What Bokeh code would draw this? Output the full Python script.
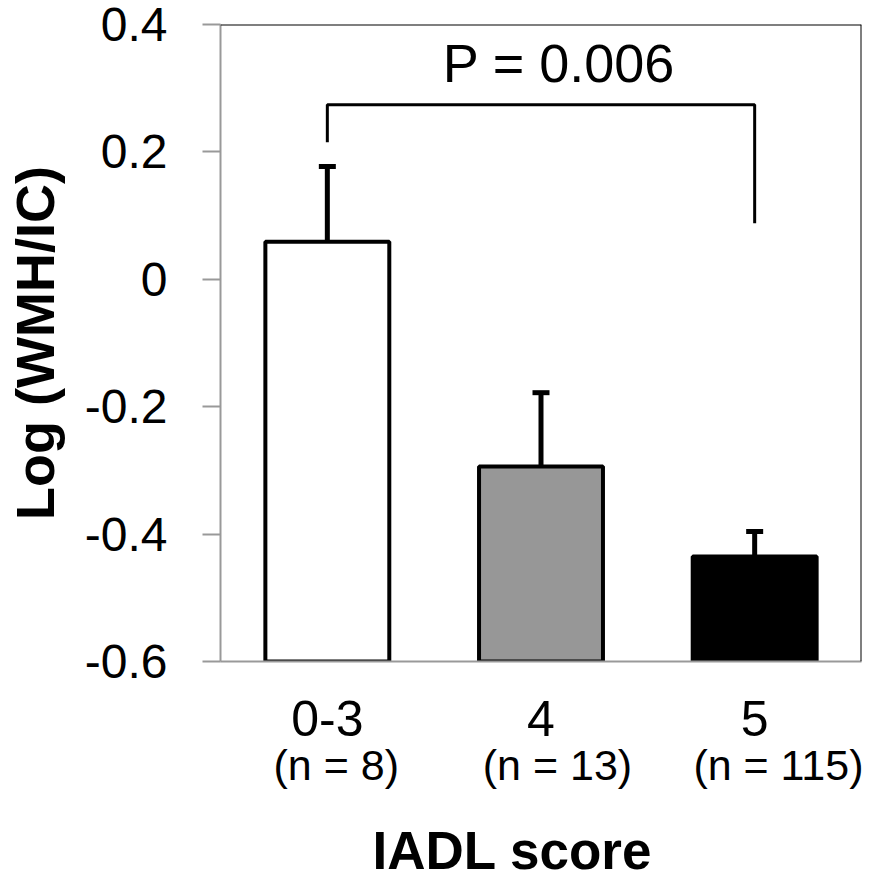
from bokeh.plotting import figure
from bokeh.models import (Range1d, FixedTicker, CustomJSTickFormatter,
                          ColumnDataSource, Span, LinearAxis)
from bokeh.core.properties import value
from bokeh.embed import file_html
from bokeh.resources import INLINE

categories = ["0-3", "4", "5"]
n_labels = ["(n = 8)", "(n = 13)", "(n = 115)"]
means = [0.059, -0.294, -0.435]
err_tops = [0.177, -0.178, -0.396]
bar_colors = ["#ffffff", "#979797", "#000000"]
y_ticks = [-0.6, -0.4, -0.2, 0.0, 0.2, 0.4]
bracket_cats = ["0-3", "0-3", "5", "5"]
bracket_y = [0.215, 0.274, 0.274, 0.088]
p_text = "P = 0.006"
p_text_y = 0.34
y_title = "Log (WMH/IC)"
x_title = "IADL score"

FONT = "Liberation Sans"
GRAY = "#999999"
Y0, Y1 = -0.6, 0.4

# category positions on a numeric axis (slot centres)
pos = {c: i + 0.5 for i, c in enumerate(categories)}
xs = [pos[c] for c in categories]

p = figure(x_range=Range1d(0, len(categories)), y_range=Range1d(Y0, Y1),
           frame_width=641, frame_height=637,
           min_border_left=220, min_border_top=24, min_border_right=2,
           min_border_bottom=214,
           output_backend="svg", toolbar_location=None)
# extra ranges used only to place the text rows under the categories
p.extra_x_ranges = {
    "n": Range1d(-0.0235, 2.8745),
    "title": Range1d(0.0445, 1.0445),
}
p.grid.visible = False
p.outline_line_color = None
p.background_fill_color = "white"

src = ColumnDataSource(dict(x=xs, top=means, err=err_tops, color=bar_colors))
p.vbar(x="x", top="top", bottom=Y0, width=0.58, source=src,
       fill_color="color", line_color="black", line_width=4)
p.segment(x0="x", y0="top", x1="x", y1="err", source=src, line_color="black", line_width=5)
p.scatter(x="x", y="err", marker="dash", size=17, line_width=5, line_color="black", source=src)

p.line(x=[pos[c] for c in bracket_cats], y=bracket_y, line_color="black", line_width=3)
p.text(x=[pos["4"]], y=[p_text_y], text=[p_text], x_offset=18, text_align="center",
       text_baseline="middle", text_font=value(FONT), text_font_size="54px",
       text_color="black")

# black top and right borders
p.add_layout(Span(location=Y1, dimension="width", line_color="black", line_width=2))
p.add_layout(Span(location=len(categories), dimension="height", line_color="black", line_width=2))

# y axis
ya = p.yaxis[0]
ya.ticker = FixedTicker(ticks=y_ticks)
ya.formatter = CustomJSTickFormatter(code="return tick == 0 ? '0' : tick.toFixed(1);")
ya.axis_line_color = GRAY
ya.axis_line_width = 2
ya.major_tick_line_color = GRAY
ya.major_tick_line_width = 2
ya.major_tick_out = 18
ya.major_tick_in = 0
ya.minor_tick_line_color = None
ya.major_label_standoff = 35
ya.major_label_text_font = FONT
ya.major_label_text_font_size = "48px"
ya.major_label_text_color = "black"
ya.axis_label = y_title
ya.axis_label_text_font = FONT
ya.axis_label_text_font_style = "bold"
ya.axis_label_text_font_size = "54px"
ya.axis_label_text_color = "black"
ya.axis_label_standoff = 17

# x axis (category labels)
xa = p.xaxis[0]
xa.ticker = FixedTicker(ticks=xs)
xa.formatter = CustomJSTickFormatter(args=dict(labels=categories),
                                     code="return labels[Math.round(tick - 0.5)];")
xa.axis_line_color = GRAY
xa.axis_line_width = 2
xa.major_tick_line_color = None
xa.minor_tick_line_color = None
xa.major_label_standoff = 33
xa.major_label_text_font = FONT
xa.major_label_text_font_size = "50px"
xa.major_label_text_color = "black"

# row of sample sizes
xn = LinearAxis(x_range_name="n", axis_line_color=None,
                ticker=FixedTicker(ticks=xs),
                formatter=CustomJSTickFormatter(args=dict(labels=n_labels),
                                                code="return labels[Math.round(tick - 0.5)];"),
                major_tick_line_color=None, minor_tick_line_color=None,
                major_label_standoff=-4, major_label_text_font=FONT,
                major_label_text_font_size="43px", major_label_text_color="black")
p.add_layout(xn, "below")

# x title row
xt = LinearAxis(x_range_name="title", axis_line_color=None,
                ticker=FixedTicker(ticks=[0.5]),
                formatter=CustomJSTickFormatter(args=dict(t=x_title), code="return t;"),
                major_tick_line_color=None, minor_tick_line_color=None,
                major_label_standoff=23, major_label_text_font=FONT,
                major_label_text_font_style="bold",
                major_label_text_font_size="53px", major_label_text_color="black")
p.add_layout(xt, "below")

open("out.html", "w").write(file_html(p, INLINE))
